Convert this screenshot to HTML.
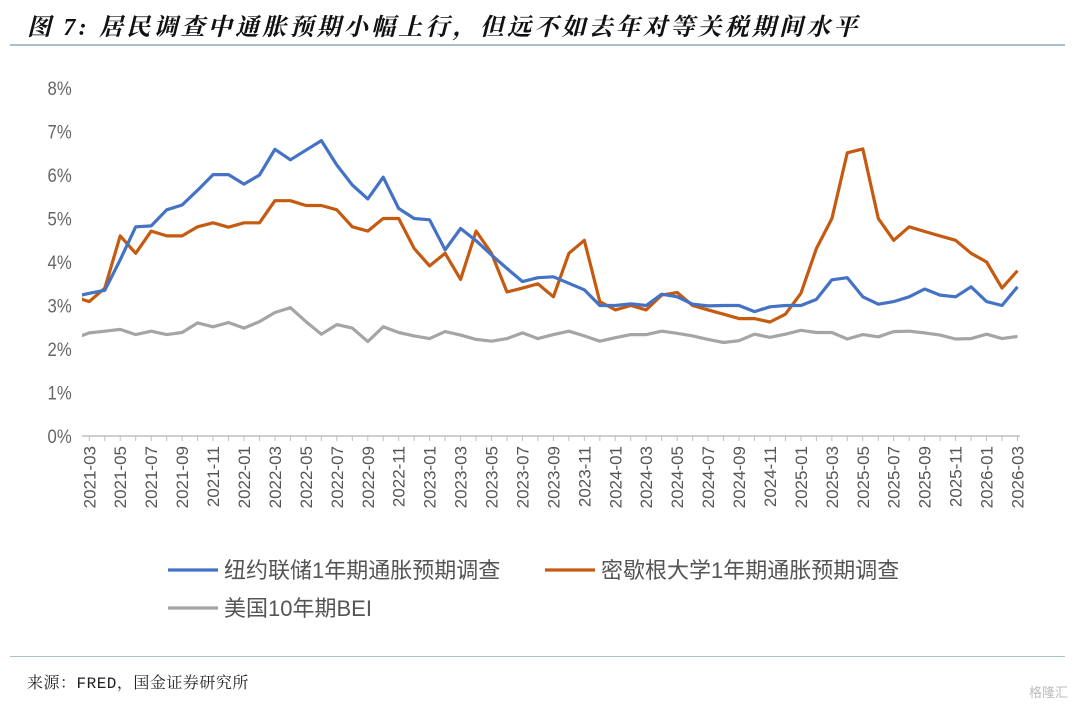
<!DOCTYPE html>
<html><head><meta charset="utf-8">
<style>
html,body{margin:0;padding:0;background:#fff;}
body{width:1080px;height:708px;overflow:hidden;position:relative;font-family:"Liberation Sans","Noto Sans CJK SC",sans-serif;}
#title{position:absolute;left:27px;top:7px;font-size:24px;font-weight:bold;font-style:italic;color:#111;white-space:nowrap;letter-spacing:3.2px;font-family:"Liberation Serif","Noto Serif CJK SC",serif;}
#rule1{position:absolute;left:10px;top:44px;width:1055px;height:2px;background:#a9c0cc;}
#rule2{position:absolute;left:10px;top:656px;width:1055px;height:1px;background:#a9c0cc;}
#src{position:absolute;left:27px;top:670px;font-size:16px;color:#222;font-family:"Liberation Mono","Noto Serif CJK SC",monospace;letter-spacing:0.5px;}
#wm{position:absolute;right:12px;top:682px;font-size:13px;color:#bbb;}
svg{position:absolute;left:0;top:0;}
</style></head><body>
<div id="title">图 7: 居民调查中通胀预期小幅上行，但远不如去年对等关税期间水平</div>
<div id="rule1"></div>
<svg id="chart" width="1080" height="708"></svg>
<div id="rule2"></div>
<div id="src">来源：FRED，国金证券研究所</div>
<div id="wm">格隆汇</div>
<script>
const months=["2021-02","2021-03","2021-04","2021-05","2021-06","2021-07","2021-08","2021-09","2021-10","2021-11","2021-12","2022-01","2022-02","2022-03","2022-04","2022-05","2022-06","2022-07","2022-08","2022-09","2022-10","2022-11","2022-12","2023-01","2023-02","2023-03","2023-04","2023-05","2023-06","2023-07","2023-08","2023-09","2023-10","2023-11","2023-12","2024-01","2024-02","2024-03","2024-04","2024-05","2024-06","2024-07","2024-08","2024-09","2024-10","2024-11","2024-12","2025-01","2025-02","2025-03","2025-04","2025-05","2025-06","2025-07","2025-08","2025-09","2025-10","2025-11","2025-12","2026-01","2026-02","2026-03"];
const nyFed=[3.2,3.28,3.35,4.05,4.81,4.83,5.2,5.31,5.65,6.01,6.01,5.79,6.0,6.59,6.35,6.57,6.79,6.23,5.77,5.45,5.95,5.23,5.0,4.97,4.28,4.77,4.49,4.16,3.85,3.55,3.64,3.66,3.51,3.36,3.0,3.0,3.04,3.0,3.26,3.2,3.03,2.99,3.0,3.0,2.86,2.97,3.0,3.0,3.14,3.59,3.64,3.2,3.03,3.09,3.2,3.38,3.24,3.2,3.43,3.09,3.0,3.43];
const michigan=[3.2,3.09,3.4,4.6,4.2,4.71,4.6,4.6,4.81,4.9,4.8,4.9,4.9,5.41,5.41,5.3,5.3,5.2,4.81,4.71,5.0,5.0,4.31,3.91,4.2,3.6,4.71,4.2,3.31,3.4,3.5,3.2,4.2,4.5,3.09,2.9,3.0,2.9,3.24,3.3,3.0,2.9,2.8,2.7,2.7,2.62,2.8,3.28,4.31,5.0,6.51,6.6,5.0,4.5,4.81,4.7,4.6,4.5,4.2,4.0,3.4,3.8];
const bei=[2.24,2.37,2.41,2.45,2.33,2.41,2.33,2.38,2.6,2.51,2.61,2.48,2.63,2.84,2.95,2.63,2.34,2.56,2.48,2.17,2.51,2.38,2.3,2.24,2.4,2.32,2.22,2.18,2.24,2.37,2.24,2.33,2.41,2.3,2.18,2.26,2.33,2.33,2.41,2.36,2.3,2.22,2.15,2.19,2.34,2.27,2.34,2.43,2.38,2.38,2.23,2.33,2.28,2.4,2.41,2.37,2.32,2.23,2.24,2.34,2.24,2.29];
const yTicks=[0,1,2,3,4,5,6,7,8];
const NS="http://www.w3.org/2000/svg";
const svg=document.getElementById('chart');
const X0=82,X1=1020,Y0=436,PY=43.5;
const xs=i=>89.3+(i-1)*15.47;
const ys=v=>Y0-v*PY;
function mk(t,a){const e=document.createElementNS(NS,t);for(const k in a)e.setAttribute(k,a[k]);svg.appendChild(e);return e;}
const defs=mk('defs',{});
const cp=document.createElementNS(NS,'clipPath');cp.setAttribute('id','clip');
const r=document.createElementNS(NS,'rect');r.setAttribute('x',X0);r.setAttribute('y',60);r.setAttribute('width',X1-X0);r.setAttribute('height',400);
cp.appendChild(r);defs.appendChild(cp);
yTicks.forEach(v=>{
 const t=mk('text',{x:64,y:ys(v)+7,'text-anchor':'end','font-size':19,fill:'#666',transform:`translate(${64*0.12},0) scale(0.88,1)`,'transform-origin':'64 0'});
 t.textContent=v+'%';
 
 
});
const ax=mk('line',{x1:X0,y1:Y0,x2:X1,y2:Y0,stroke:'#bfbfbf','stroke-width':1.5});


months.forEach((m,i)=>{
 if(i<1)return;
 const x=xs(i);
 const tk=mk('line',{x1:x,y1:Y0,x2:x,y2:Y0+5,stroke:'#bfbfbf','stroke-width':1});
 
 
 if((i-1)%2===0){
  const t=mk('text',{x:0,y:0,'text-anchor':'end','font-size':17,fill:'#555',transform:`translate(${x+6},${Y0+10}) rotate(-90)`});
  t.textContent=m;
  
  
 }
});
function line(vals,color,name){
 const d=vals.map((v,i)=>(i?'L':'M')+xs(i).toFixed(1)+' '+ys(v).toFixed(1)).join(' ');
 const p=mk('path',{d:d,fill:'none',stroke:color,'stroke-width':3.2,'stroke-linejoin':'round','clip-path':'url(#clip)'});
 
 
}
line(bei,'#a5a5a5','series-bei');
line(michigan,'#c55a11','series-michigan');
line(nyFed,'#4472c4','series-nyfed');
const leg=[['#4472c4','纽约联储1年期通胀预期调查',168,570],['#c55a11','密歇根大学1年期通胀预期调查',545,570],['#a5a5a5','美国10年期BEI',168,608]];
leg.forEach(l=>{
 const g=mk('g',{});
 
 
 const ln=document.createElementNS(NS,'line');
 [['x1',l[2]],['x2',l[2]+50],['y1',l[3]],['y2',l[3]],['stroke',l[0]],['stroke-width',3.2]].forEach(a=>ln.setAttribute(a[0],a[1]));
 g.appendChild(ln);
 const t=document.createElementNS(NS,'text');
 t.setAttribute('x',l[2]+56);t.setAttribute('y',l[3]+8);t.setAttribute('font-size',22);t.setAttribute('fill','#555');
 t.textContent=l[1];g.appendChild(t);
});
</script>
</body></html>
